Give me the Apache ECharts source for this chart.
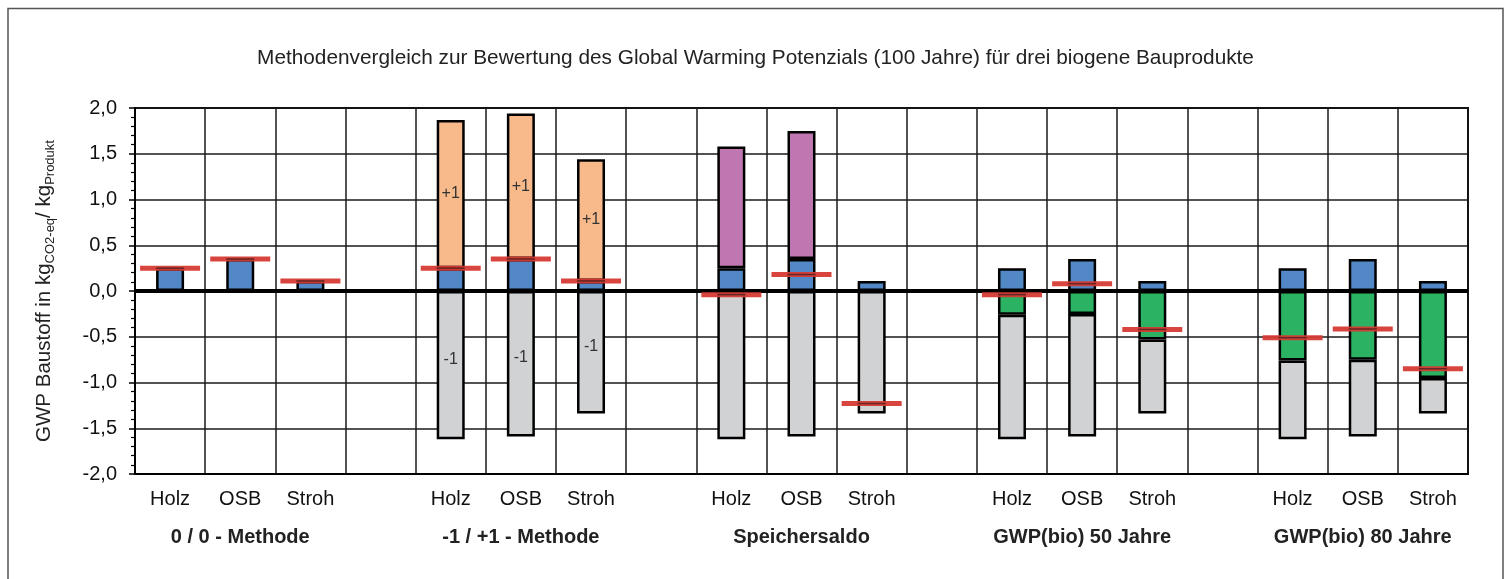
<!DOCTYPE html>
<html>
<head>
<meta charset="utf-8">
<script src="https://cdn.jsdelivr.net/npm/echarts@6/dist/echarts.min.js"></script>
<style>
  html, body { margin: 0; padding: 0; background: #fff; }
  #chart { width: 1511px; height: 579px; }
</style>
</head>
<body>
<div id="chart"></div>
<script>
// ---- data ----
const categories = ['Holz','OSB','Stroh','', 'Holz','OSB','Stroh','', 'Holz','OSB','Stroh','', 'Holz','OSB','Stroh','', 'Holz','OSB','Stroh'];
const groupNames = ['0 / 0 - Methode', '-1 / +1 - Methode', 'Speichersaldo', 'GWP(bio) 50 Jahre', 'GWP(bio) 80 Jahre'];
const yTicks = [-2, -1.5, -1, -0.5, 0, 0.5, 1, 1.5, 2];

// fossil / production part (blue)
const productionVals = [0.25, 0.35, 0.11, null, 0.25, 0.35, 0.11, null, 0.25, 0.35, 0.11, null, 0.25, 0.35, 0.11, null, 0.25, 0.35, 0.11];
// +1 release (orange)
const plusOneVals = [null, null, null, null, 1.62, 1.59, 1.33, null, null, null, null, null, null, null, null, null, null, null, null];
// storage balance (purple)
const storageVals = [null, null, null, null, null, null, null, null, 1.33, 1.40, null, null, null, null, null, null, null, null, null];
// GWP(bio) part (green)
const bioVals = [null, null, null, null, null, null, null, null, null, null, null, null, -0.26, -0.25, -0.53, null, -0.76, -0.75, -0.95];
// -1 uptake (grey)
const uptakeVals = [null, null, null, null, -1.62, -1.59, -1.34, null, -1.62, -1.59, -1.34, null, -1.36, -1.34, -0.81, null, -0.86, -0.84, -0.39];
// net result (red marker)
const netVals = [0.25, 0.35, 0.11, null, 0.25, 0.35, 0.11, null, -0.04, 0.18, -1.23, null, -0.04, 0.08, -0.42, null, -0.51, -0.415, -0.85];
// segment label texts
const plusLabels = ['', '', '', '', '+1', '+1', '+1', '', '', '', '', '', '', '', '', '', '', '', ''];
const minusLabels = ['', '', '', '', '-1', '-1', '-1', '', '', '', '', '', '', '', '', '', '', '', ''];

// ---- chart ----
const FONT = '"Liberation Sans", Arial, Helvetica, sans-serif';
const groupAxisData = categories.map((c, i) => (i % 4 === 1 ? groupNames[(i - 1) / 4] : ''));

const chart = echarts.init(document.getElementById('chart'), null, { renderer: 'canvas' });

const barBase = {
  type: 'bar',
  stack: 'total',
  barWidth: 28,
  itemStyle: { borderColor: '#000', borderWidth: 2.5 },
  emphasis: { disabled: true },
  z: 3
};

const option = {
  animation: false,
  backgroundColor: '#fff',
  textStyle: { fontFamily: FONT },
  title: {
    text: 'Methodenvergleich zur Bewertung des Global Warming Potenzials (100 Jahre) für drei biogene Bauprodukte',
    left: 'center',
    top: 43,
    textStyle: { fontFamily: FONT, fontSize: 20.8, fontWeight: 'normal', color: '#222' }
  },
  graphic: [{
    type: 'rect',
    shape: { x: 8, y: 8.5, width: 1495, height: 620 },
    style: { fill: 'none', stroke: '#555', lineWidth: 1.5 },
    silent: true,
    z: 0
  }],
  grid: {
    left: 135, right: 43, top: 108, bottom: 105,
    show: true, borderColor: '#000', borderWidth: 2, backgroundColor: 'transparent'
  },
  xAxis: [{
    type: 'category',
    data: categories,
    boundaryGap: true,
    axisLine: { onZero: false, lineStyle: { color: '#000', width: 2 } },
    axisTick: { show: false },
    splitLine: { show: true, interval: 0, lineStyle: { color: '#1a1a1a', width: 1.5 } },
    axisLabel: { interval: 0, margin: 15, fontSize: 20, color: '#111', fontFamily: FONT }
  }, {
    type: 'category',
    data: groupAxisData,
    position: 'bottom',
    offset: 38,
    boundaryGap: true,
    axisLine: { show: false },
    axisTick: { show: false },
    splitLine: { show: false },
    axisLabel: { interval: 0, margin: 15, fontSize: 20, fontWeight: 'bold', color: '#222', fontFamily: FONT }
  }],
  yAxis: {
    type: 'value',
    min: -2, max: 2, interval: 0.5,
    axisLine: { show: true, lineStyle: { color: '#000', width: 2 } },
    axisTick: { show: true, length: 6, lineStyle: { color: '#000', width: 1.5 } },
    minorTick: { show: true, splitNumber: 5, length: 4, lineStyle: { color: '#000', width: 1.2 } },
    splitLine: { show: true, lineStyle: { color: '#1a1a1a', width: 1.5 } },
    axisLabel: {
      margin: 18, fontSize: 20, color: '#111', fontFamily: FONT,
      customValues: yTicks,
      formatter: v => v.toFixed(1).replace('.', ',')
    },
    name: '{a|GWP Baustoff in kg}{s|CO2-eq}{a|/ kg}{s|Produkt}',
    nameLocation: 'middle',
    nameRotate: 90,
    nameGap: 78,
    nameTextStyle: {
      fontFamily: FONT,
      rich: {
        a: { fontSize: 20.5, color: '#222', fontFamily: FONT, lineHeight: 26, verticalAlign: 'middle' },
        s: { fontSize: 13, color: '#222', fontFamily: FONT, lineHeight: 26, verticalAlign: 'bottom', padding: [12, 0, 0, 0] }
      }
    }
  },
  series: [
    Object.assign({}, barBase, {
      name: 'Herstellung',
      data: productionVals,
      itemStyle: Object.assign({}, barBase.itemStyle, { color: '#5388c6' }),
      markLine: {
        silent: true,
        symbol: ['none', 'none'],
        label: { show: false },
        lineStyle: { color: '#000', width: 4, type: 'solid' },
        data: [{ yAxis: 0 }],
        z: 5
      }
    }),
    Object.assign({}, barBase, {
      name: '+1',
      data: plusOneVals,
      itemStyle: Object.assign({}, barBase.itemStyle, { color: '#f8b98b' }),
      label: {
        show: true, position: 'inside', fontSize: 16, color: '#333', fontFamily: FONT,
        formatter: p => plusLabels[p.dataIndex]
      }
    }),
    Object.assign({}, barBase, {
      name: 'Speichersaldo',
      data: storageVals,
      itemStyle: Object.assign({}, barBase.itemStyle, { color: '#bf77b1' })
    }),
    Object.assign({}, barBase, {
      name: 'GWP bio',
      data: bioVals,
      itemStyle: Object.assign({}, barBase.itemStyle, { color: '#2bb363' })
    }),
    Object.assign({}, barBase, {
      name: '-1',
      data: uptakeVals,
      itemStyle: Object.assign({}, barBase.itemStyle, { color: '#d1d2d4' }),
      label: {
        show: true, position: 'inside', fontSize: 16, color: '#333', fontFamily: FONT,
        offset: [0, -6],
        formatter: p => minusLabels[p.dataIndex]
      }
    }),
    {
      name: 'Netto',
      type: 'scatter',
      data: netVals,
      symbol: 'rect',
      symbolSize: [60, 5],
      itemStyle: { color: '#d63a34', opacity: 0.95 },
      emphasis: { disabled: true },
      z: 6
    },
    {
      name: 'Netto Linie',
      type: 'scatter',
      data: netVals,
      symbol: 'rect',
      symbolSize: [28, 1.5],
      itemStyle: { color: '#4a1f1c' },
      emphasis: { disabled: true },
      z: 7
    }
  ]
};

chart.setOption(option);
</script>
</body>
</html>
